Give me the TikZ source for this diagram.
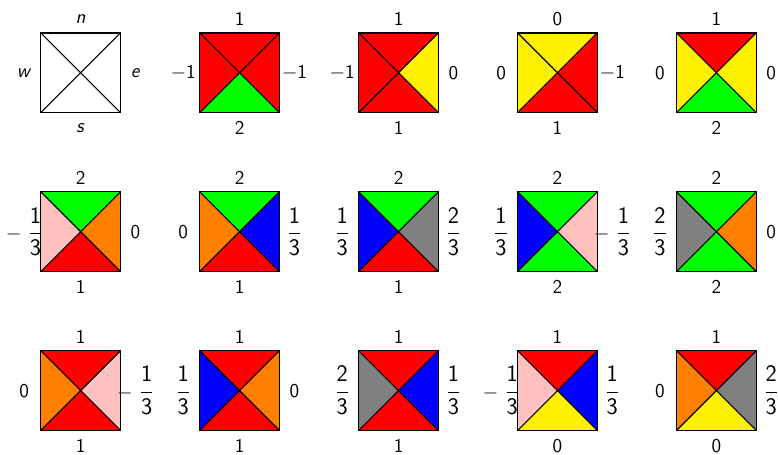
\documentclass[tikz,border=0pt]{standalone}
\usepackage{tikz}
\usetikzlibrary{positioning, calc}
\definecolor{tilered}{HTML}{FF0000}
\definecolor{tilegreen}{HTML}{00FF00}
\definecolor{tileblue}{HTML}{0000FF}
\definecolor{tileyellow}{HTML}{FFF000}
\definecolor{tileorange}{HTML}{FF8000}
\definecolor{tilepink}{HTML}{FFC0C0}
\definecolor{tilegray}{HTML}{808080}

\newcommand{\wfrac}[2]{{\fontsize{17}{20}\selectfont$\displaystyle\frac{\hbox{#1}}{\hbox{#2}}$}}
\newcommand{\mone}{$-$1}
\newcommand{\third}{\wfrac{1}{3}}
\newcommand{\twothirds}{\wfrac{2}{3}}
\newcommand{\mthird}{$-\mkern6mu$\wfrac{1}{3}}

\tikzset{
  tile/.style={minimum size=2cm, inner sep=0pt, outer sep=0pt},
  edgelabel/.style={font=\sffamily\fontsize{14}{16}\selectfont, inner sep=0pt}
}

\begin{document}
\begin{tikzpicture}[line width=0.8pt]
  \useasboundingbox (-2.03,-9.62) rectangle (17.55,1.83);
  \foreach \x/\y/\cn/\ce/\cs/\cw/\ln/\le/\ls/\lw [count=\i] in {
      0/0/white/white/white/white/{\textit{n}}/{\textit{e}}/{\textit{s}}/{\textit{w}},
      4/0/tilered/tilered/tilegreen/tilered/1/\mone/2/\mone,
      8/0/tilered/tileyellow/tilered/tilered/1/0/1/\mone,
      12/0/tileyellow/tilered/tilered/tileyellow/0/\mone/1/0,
      16/0/tilered/tileyellow/tilegreen/tileyellow/1/0/2/0,
      0/-4/tilegreen/tileorange/tilered/tilepink/2/0/1/\mthird,
      4/-4/tilegreen/tileblue/tilered/tileorange/2/\third/1/0,
      8/-4/tilegreen/tilegray/tilered/tileblue/2/\twothirds/1/\third,
      12/-4/tilegreen/tilepink/tilegreen/tileblue/2/\mthird/2/\third,
      16/-4/tilegreen/tileorange/tilegreen/tilegray/2/0/2/\twothirds,
      0/-8/tilered/tilepink/tilered/tileorange/1/\mthird/1/0,
      4/-8/tilered/tileorange/tilered/tileblue/1/0/1/\third,
      8/-8/tilered/tileblue/tilered/tilegray/1/\third/1/\twothirds,
      12/-8/tilered/tileblue/tileyellow/tilepink/1/\third/0/\mthird,
      16/-8/tilered/tilegray/tileyellow/tileorange/1/\twothirds/0/0} {
    \node[tile] (t\i) at (\x,\y) {};
    \fill[\cn] (t\i.north west) -- (t\i.north east) -- (t\i.center) -- cycle;
    \fill[\ce] (t\i.north east) -- (t\i.south east) -- (t\i.center) -- cycle;
    \fill[\cs] (t\i.south east) -- (t\i.south west) -- (t\i.center) -- cycle;
    \fill[\cw] (t\i.south west) -- (t\i.north west) -- (t\i.center) -- cycle;
    \draw (t\i.north west) rectangle (t\i.south east);
    \draw (t\i.north west) -- (t\i.south east);
    \draw (t\i.north east) -- (t\i.south west);
    \node[edgelabel] (n\i) at ($(t\i.north)+(0,0.36)$) {\ln};
    \node[edgelabel] (s\i) at ($(t\i.south)+(0,-0.40)$) {\ls};
    \node[edgelabel] (e\i) at ($(t\i.east)+(0.38,0)$) {\le};
    \node[edgelabel] (w\i) at ($(t\i.west)+(-0.42,0)$) {\lw};
  }
\end{tikzpicture}
\end{document}
